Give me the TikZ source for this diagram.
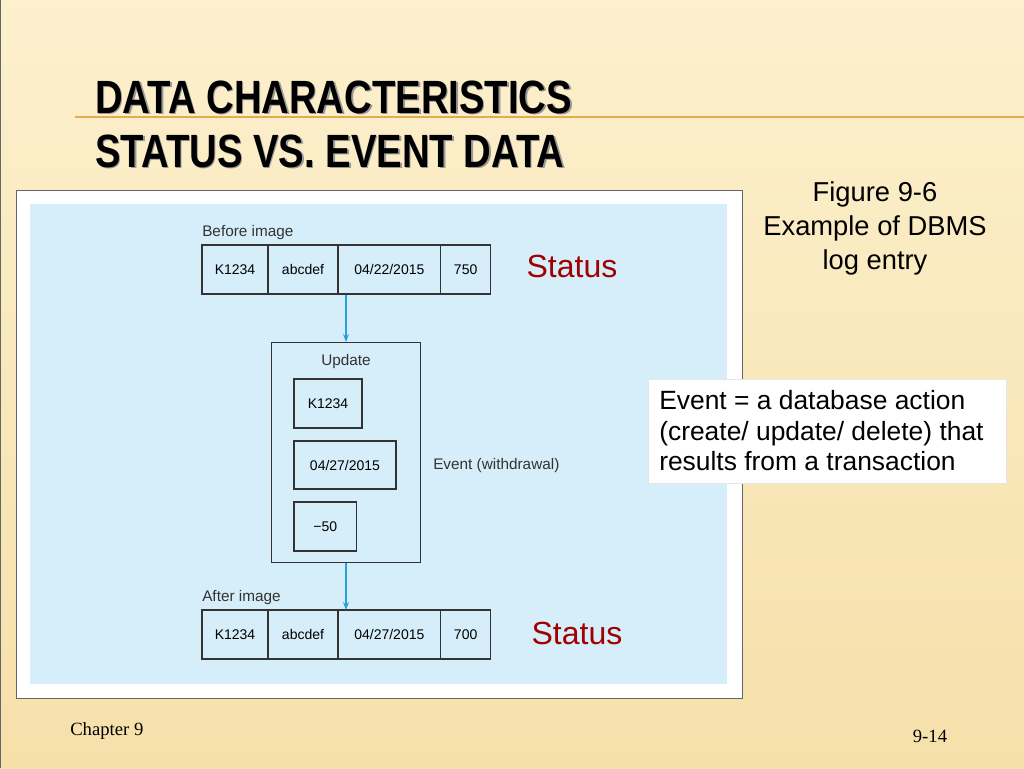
\documentclass[tikz,border=0pt]{standalone}
\usepackage{fontspec}
\setmainfont{Liberation Sans}
\newfontfamily\serifrm{Liberation Serif}
\usetikzlibrary{arrows.meta,positioning,calc}
\definecolor{slidebg}{RGB}{246,224,170}
\definecolor{slidetop}{RGB}{252,240,205}
\definecolor{paneblue}{RGB}{214,238,249}
\definecolor{statusred}{RGB}{160,0,0}
\definecolor{arrowblue}{RGB}{40,160,220}
\definecolor{ruleorange}{RGB}{230,170,80}
\tikzset{
    cell/.style={draw=black!80, line width=0.8pt, minimum height=36.75pt, inner sep=0pt, outer sep=0pt, font=\fontsize{10.5}{12}\selectfont},
    smalllbl/.style={font=\fontsize{11.5}{12}\selectfont, text=black!80, inner sep=0pt},
    flow/.style={-{Stealth[length=6pt]}, arrowblue, line width=0.8pt},
    statuslbl/.style={font=\fontsize{24}{26}\selectfont, text=statusred, inner sep=0pt},
}
\begin{document}
\begin{tikzpicture}[x=0.75pt, y=-0.75pt]
    \useasboundingbox (0,0) rectangle (1024,768);
    % Slide background.
    \shade[top color=slidetop, bottom color=slidebg] (0,0) rectangle (1024,768);
    \draw[black!60, line width=1pt] (0.5,0) -- (0.5,768);
    \draw[ruleorange, line width=1pt] (75,117) -- (1024,117);
    % Title.
    \foreach \dx/\col in {1.5/black!40, 0/black}
    {
        \node[anchor=west, inner sep=0pt, text=\col, font=\bfseries\fontsize{35}{36}\selectfont, xscale=0.82]
            at ($(95,97)+(\dx,\dx)$) {DATA CHARACTERISTICS};
        \node[anchor=west, inner sep=0pt, text=\col, font=\bfseries\fontsize{35}{36}\selectfont, xscale=0.82]
            at ($(95,151)+(\dx,\dx)$) {STATUS VS. EVENT DATA};
    }
    % Figure pane.
    \draw[fill=white, draw=black!60] (16,190) rectangle (742,698);
    \fill[paneblue] (30,204) rectangle (727,684);
    % Before image.
    \node[smalllbl, anchor=west] (beforelbl) at (202,233) {Before image};
    \node[cell, minimum width=49.5pt, anchor=north west] (b1) at (202,245) {K1234};
    \node[cell, minimum width=52.5pt, right=0pt of b1] (b2) {abcdef};
    \node[cell, minimum width=77pt, right=0pt of b2] (b3) {04/22/2015};
    \node[cell, minimum width=37.5pt, right=0pt of b3] (b4) {750};
    % Update record.
    \node[draw=black!80, line width=0.8pt, fill=paneblue, minimum width=112pt, minimum height=165pt, anchor=north west] (upd) at (271,342) {};
    \node[smalllbl] (updlbl) at (346,362) {Update};
    \node[cell, minimum width=51pt, anchor=north west] (u1) at (294,379) {K1234};
    \node[cell, minimum width=76.5pt, minimum height=36pt, anchor=north west] (u2) at (294,441) {04/27/2015};
    \node[cell, minimum width=47pt, anchor=north west] (u3) at (294,502) {\textminus50};
    \node[smalllbl, anchor=west] (evlbl) at (433,466) {Event (withdrawal)};
    % After image.
    \node[smalllbl, anchor=west] (afterlbl) at (202,598) {After image};
    \node[cell, minimum width=49.5pt, anchor=north west] (a1) at (202,610) {K1234};
    \node[cell, minimum width=52.5pt, right=0pt of a1] (a2) {abcdef};
    \node[cell, minimum width=77pt, right=0pt of a2] (a3) {04/27/2015};
    \node[cell, minimum width=37.5pt, right=0pt of a3] (a4) {700};
    % Flow arrows.
    \coordinate (bout) at (346,295);
    \coordinate (aout) at (346,563);
    \draw[flow] (bout) -- (bout |- upd.north);
    \draw[flow] (aout) -- (aout |- a1.north);
    % Annotations.
    \node[statuslbl] (st1) at (572,266) {Status};
    \node[statuslbl] (st2) at (577,633) {Status};
    \node[align=center, font=\fontsize{20.5}{25.5}\selectfont, inner sep=0pt] (cap) at (875,228)
        {Figure 9-6\\Example of DBMS\\log entry};
    \node[fill=white, draw=black!10, minimum width=268.5pt, minimum height=78pt, anchor=north west] (evbox) at (648,379) {};
    \node[anchor=north west, align=left, inner sep=0pt, font=\fontsize{19.8}{23}\selectfont] (evtext) at (659,390)
        {Event = a database action\\(create/ update/ delete) that\\results from a transaction};
    % Footer.
    \node[anchor=west, inner sep=0pt, font=\serifrm\fontsize{14}{16}\selectfont] (chap) at (70,731) {Chapter 9};
    \node[inner sep=0pt, font=\serifrm\fontsize{14}{16}\selectfont] (pg) at (930,736) {9-14};
\end{tikzpicture}
\end{document}
